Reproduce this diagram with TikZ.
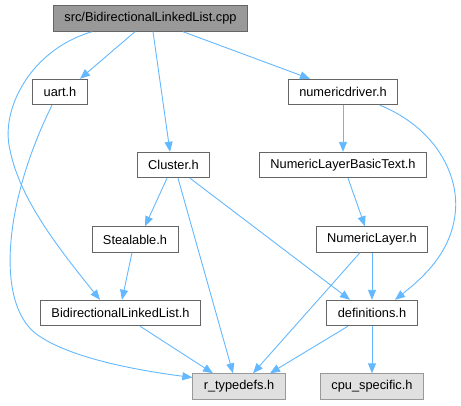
\documentclass[tikz,border=0pt]{standalone}
\usepackage{fontspec}
\setmainfont{Liberation Sans}
\usetikzlibrary{arrows.meta}
\definecolor{incblue}{HTML}{63B8FF}
\definecolor{rootgray}{HTML}{999999}
\definecolor{extgray}{HTML}{E0E0E0}
\definecolor{edgegray}{HTML}{666666}
\begin{document}
\begin{tikzpicture}[x=1pt, y=-1pt,
      box/.style={draw=edgegray, fill=white, font=\fontsize{12.8}{15}\selectfont,
                  inner xsep=11pt, minimum height=25.5pt, line width=0.9pt},
      rootbox/.style={box, fill=rootgray},
      extbox/.style={box, draw=rootgray, fill=extgray},
      arr/.style={-{Triangle[length=10pt, width=8pt]}, incblue, line width=0.9pt}]
    \useasboundingbox (0,0) rectangle (461,405);
    \node[rootbox] (cpp)     at (150.5,18.5) {src/BidirectionalLinkedList.cpp};
    \node[box]     (uart)    at (60,92)      {uart.h};
    \node[box]     (numdrv)  at (343,92)     {numericdriver.h};
    \node[box]     (cluster) at (173.5,165)  {Cluster.h};
    \node[box]     (nlbt)    at (343,165)    {NumericLayerBasicText.h};
    \node[box]     (steal)   at (135,239.5)  {Stealable.h};
    \node[box]     (nl)      at (372,239.5)  {NumericLayer.h};
    \node[box]     (bll)     at (120.5,313)  {BidirectionalLinkedList.h};
    \node[box]     (defs)    at (372,313)    {definitions.h};
    \node[extbox]  (rtd)     at (239,386.5)  {r\_typedefs.h};
    \node[extbox]  (cpu)     at (372,386.5)  {cpu\_specific.h};
    % arrows
    \draw[arr] ([xshift=-15.5pt]cpp.south) -- ([xshift=20pt]uart.north);
    \draw[arr] ([xshift=2.5pt]cpp.south) -- ([xshift=-3.5pt]cluster.north);
    \draw[arr] ([xshift=32.5pt]cpp.south) -- ([xshift=-33pt]numdrv.north);
    \draw[arr] ([xshift=-58.5pt]cpp.south) .. controls (30,50) and (0,110) .. (10,150)
               .. controls (20,200) and (60,250) .. ([xshift=-20.5pt]bll.north);
    \draw[arr] ([xshift=-8pt]uart.south) .. controls (5,200) and (-5,300) .. (35,333)
               .. controls (70,360) and (150,372) .. ([yshift=9pt]rtd.west);
    \draw[arr] (numdrv) -- (nlbt);
    \draw[arr] ([xshift=37pt]numdrv.south) .. controls (440,130) and (460,180) .. (455,215)
               .. controls (450,255) and (420,280) .. ([xshift=23pt]defs.north);
    \draw[arr] ([xshift=-6.5pt]cluster.south) -- ([xshift=10pt]steal.north);
    \draw[arr] ([xshift=4.5pt]cluster.south) -- ([xshift=-6pt]rtd.north);
    \draw[arr] ([xshift=16.5pt]cluster.south) -- ([xshift=-22pt]defs.north);
    \draw[arr] ([xshift=5pt]nlbt.south) -- ([xshift=-7pt]nl.north);
    \draw[arr] ([xshift=-12pt]nl.south) -- ([xshift=14pt]rtd.north);
    \draw[arr] (nl) -- (defs);
    \draw[arr] ([xshift=-3pt]steal.south) -- ([xshift=1.5pt]bll.north);
    \draw[arr] ([xshift=19.5pt]bll.south) -- ([xshift=-26pt]rtd.north);
    \draw[arr] ([xshift=-24pt]defs.south) -- ([xshift=31pt]rtd.north);
    \draw[arr] (defs) -- (cpu);
  \end{tikzpicture}
\end{document}
